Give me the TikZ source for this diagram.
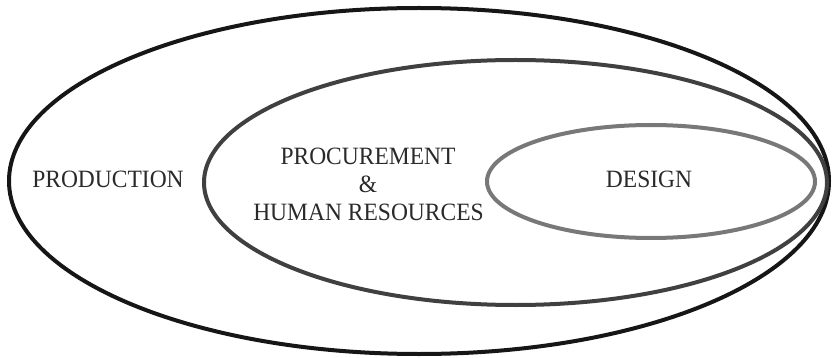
\documentclass[tikz,border=0pt]{standalone}
\usepackage{fontspec}
\setmainfont{Liberation Serif}
\definecolor{ringA}{HTML}{161616}
\definecolor{ringB}{HTML}{404040}
\definecolor{ringC}{HTML}{787878}
\definecolor{txt}{HTML}{2A2A2A}
\tikzset{
  ring/.style={line width=4pt},
  lbl/.style={inner sep=0pt, anchor=base, text=txt, yscale=1.06, font=\fontsize{23.5}{27.5}\selectfont}
}
\begin{document}
\begin{tikzpicture}[x=1pt,y=-1pt]
\useasboundingbox (0,0) rectangle (832,358);
\coordinate (outerc) at (419,181);
\coordinate (midc) at (515.5,182.5);
\coordinate (innerc) at (651,181.5);
\draw[ring, ringA] (outerc) ellipse [x radius=410, y radius=173];
\draw[ring, ringB] (midc) ellipse [x radius=311.5, y radius=122.5];
\draw[ring, ringC] (innerc) ellipse [x radius=164, y radius=56.5];
\node[lbl] (production) at (108,188) {PRODUCTION};
\node[lbl] (procurement) at (368,165) {PROCUREMENT};
\node[lbl] (amp) at (368,192.5) {\&};
\node[lbl] (human) at (368.5,220) {HUMAN RESOURCES};
\node[lbl] (design) at (649,188) {DESIGN};
\end{tikzpicture}
\end{document}
